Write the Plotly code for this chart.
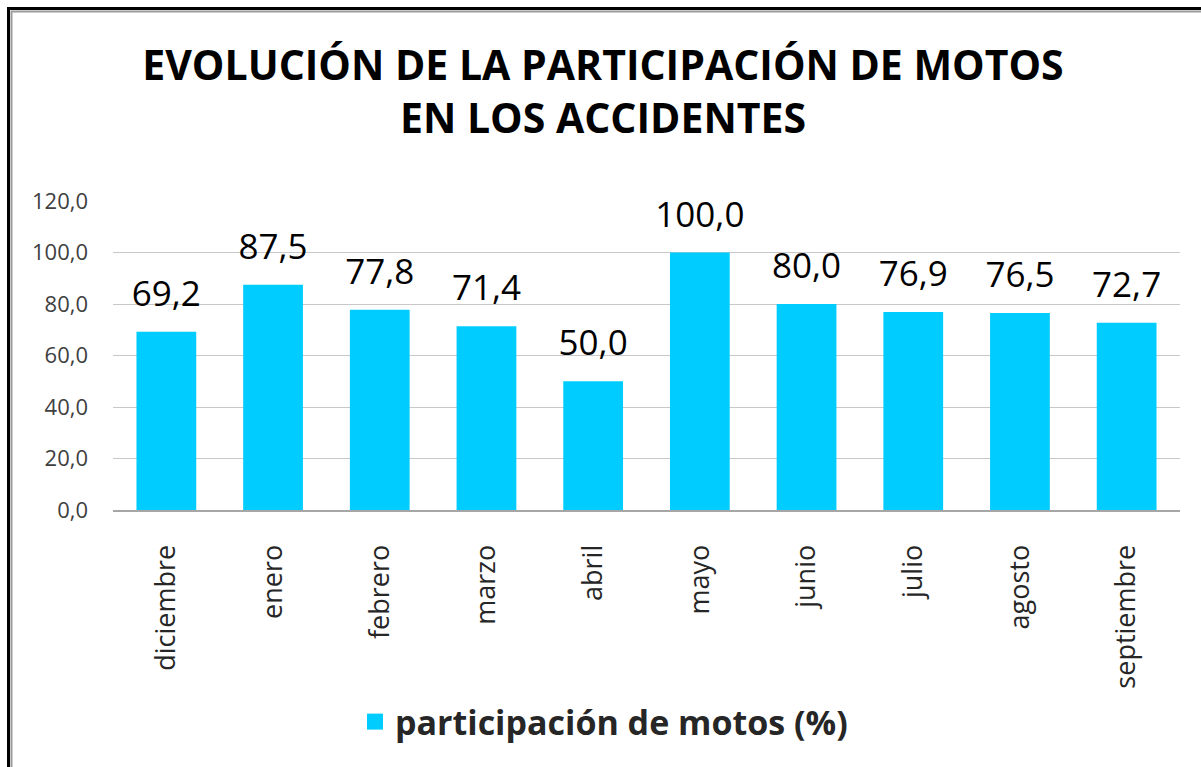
import plotly.graph_objects as go

months = ["diciembre", "enero", "febrero", "marzo", "abril", "mayo",
          "junio", "julio", "agosto", "septiembre"]
participacion = [69.2, 87.5, 77.8, 71.4, 50.0, 100.0, 80.0, 76.9, 76.5, 72.7]
y_ticks = [0, 20, 40, 60, 80, 100, 120]
series_name = "participación de motos (%)"

W, H = 1201, 767
L, R, T, B = 113, 1180, 201, 510
pw, ph = R - L, B - T

def px(x):
    return (x - L) / pw

def py(y):
    return (B - y) / ph

BAR = "#00CCFF"

fig = go.Figure()
fig.add_trace(go.Bar(
    x=months, y=participacion, name=series_name,
    marker=dict(color=BAR, line=dict(width=0)),
    hoverinfo="x+y", showlegend=False,
))
fig.add_trace(go.Scatter(
    x=months, y=participacion, mode="markers+text",
    text=[f"{v:.1f}".replace(".", ",") for v in participacion],
    textposition="top center",
    textfont=dict(family="Open Sans", size=35, color="#000000"),
    marker=dict(size=26, color="rgba(0,0,0,0)"),
    showlegend=False, hoverinfo="skip", cliponaxis=False,
))
# legend entry (square swatch)
fig.add_trace(go.Scatter(
    x=[None], y=[None], mode="markers", name=series_name,
    marker=dict(symbol="square", size=22, color=BAR),
    showlegend=True,
))

fig.update_layout(
    width=W, height=H,
    margin=dict(l=L, r=W - R, t=T, b=H - B, pad=0),
    paper_bgcolor="white", plot_bgcolor="white",
    separators=", ",
    bargap=0.44,
    title=dict(
        text="<b>EVOLUCIÓN DE LA PARTICIPACIÓN DE MOTOS<br>EN LOS ACCIDENTES</b>",
        font=dict(family="Open Sans", size=41, color="#000000"),
        x=603 / W, xanchor="center",
        y=1 - 80 / H, yanchor="middle",
    ),
    xaxis=dict(
        range=[-0.5, len(months) - 0.5],
        tickangle=-90, showgrid=False, showline=True, linecolor="#A6A6A6",
        linewidth=2, ticks="", ticklabelstandoff=22,
        tickfont=dict(family="Open Sans", size=27, color="#262626"),
    ),
    yaxis=dict(
        range=[0, 120], tickvals=y_ticks, tickformat=".1f",
        showgrid=True, gridcolor="#C8C8C8", gridwidth=1,
        zeroline=False, showline=False, ticks="",
        tickfont=dict(family="Open Sans", size=22, color="#404040"),
        ticklabelstandoff=24,
    ),
    legend=dict(
        orientation="h", x=px(604), xanchor="center",
        y=py(722), yanchor="middle",
        font=dict(family="Open Sans", size=34, color="#262626", weight="bold"),
        itemwidth=30,
    ),
    showlegend=True,
    shapes=[
        dict(type="rect", xref="paper", yref="paper",
             x0=px(8.5), x1=px(1240), y0=py(8.5), y1=py(820),
             line=dict(color="#000000", width=3), layer="above"),
        dict(type="rect", xref="paper", yref="paper",
             x0=px(11.5), x1=px(1240), y0=py(11.5), y1=py(820),
             line=dict(color="#9A9A9A", width=2), layer="above"),
    ],
)

fig.write_html("out.html", config={"displayModeBar": False},
               post_script="document.body.style.margin='0';")
